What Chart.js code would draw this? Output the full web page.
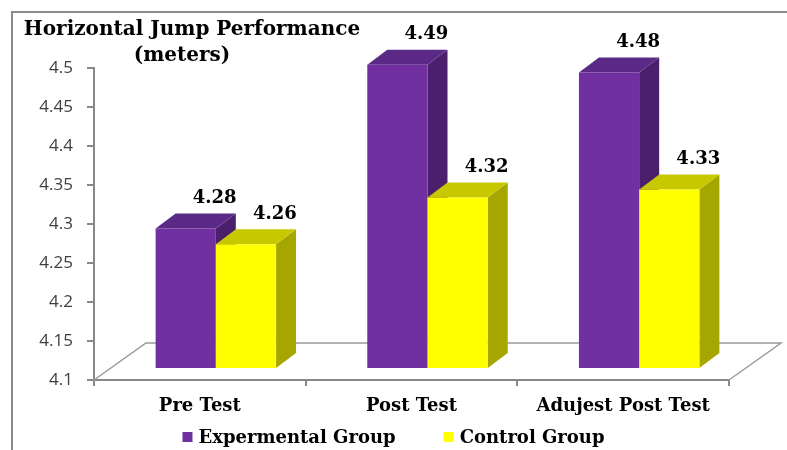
<!DOCTYPE html>
<html>
<head>
<meta charset="utf-8">
<script src="https://cdn.jsdelivr.net/npm/chart.js@4"></script>
<style>
  html, body { margin: 0; padding: 0; background: #ffffff; }
  #wrap { width: 787px; height: 450px; position: relative; }
</style>
</head>
<body>
<div id="wrap"><canvas id="c" width="787" height="450"></canvas></div>
<script>
// Horizontal jump results (meters) for the two groups
const categories = ['Pre Test', 'Post Test', 'Adujest Post Test'];
const experimental = [4.28, 4.49, 4.48];
const control = [4.26, 4.32, 4.33];
const seriesNames = ['Expermental Group', 'Control Group'];
const yTickLabels = ['4.1', '4.15', '4.2', '4.25', '4.3', '4.35', '4.4', '4.45', '4.5'];
const titleLines = ['Horizontal Jump Performance', '(meters)'];

const SERIF = '"DejaVu Serif", "Liberation Serif", serif';
const AXIS_GREY = '#888888';

// Pseudo-3D geometry: floor depth, bar depth and where bars sit inside the floor
const FLOOR = { dx: 52, dy: -37 };
const BAR = { dx: 20, dy: -15 };
const SHIFT = { dx: (FLOOR.dx - BAR.dx) / 2, dy: (FLOOR.dy - BAR.dy) / 2 };

const faceColors = [
  { front: '#7030A0', top: '#5a2a86', side: '#4a1f6c' },
  { front: '#FFFF00', top: '#C8C800', side: '#A6A600' }
];

function poly(ctx, pts, fill) {
  ctx.beginPath();
  ctx.moveTo(pts[0][0], pts[0][1]);
  for (let i = 1; i < pts.length; i++) ctx.lineTo(pts[i][0], pts[i][1]);
  ctx.closePath();
  ctx.fillStyle = fill;
  ctx.fill();
}

const frame3d = {
  id: 'frame3d',
  beforeDraw(chart) {
    const ctx = chart.ctx;
    ctx.save();
    ctx.strokeStyle = '#8c8c8c';
    ctx.lineWidth = 2;
    ctx.strokeRect(12, 12, chart.width + 20, chart.height + 20);
    ctx.restore();
  },
  beforeDatasetsDraw(chart) {
    const ctx = chart.ctx;
    const a = chart.chartArea;
    // floor outline
    ctx.save();
    ctx.strokeStyle = '#9a9a9a';
    ctx.lineWidth = 1.5;
    ctx.beginPath();
    ctx.moveTo(a.left, a.bottom);
    ctx.lineTo(a.left + FLOOR.dx, a.bottom + FLOOR.dy);
    ctx.lineTo(a.right + FLOOR.dx, a.bottom + FLOOR.dy);
    ctx.lineTo(a.right, a.bottom);
    ctx.stroke();
    ctx.restore();

    // bars: side and top faces, then the library's own front rectangle
    const n = chart.data.labels.length;
    for (let i = 0; i < n; i++) {
      chart.data.datasets.forEach((ds, d) => {
        const el = chart.getDatasetMeta(d).data[i];
        const p = el.getProps(['x', 'y', 'base', 'width'], true);
        const left = p.x - p.width / 2 + SHIFT.dx;
        const right = p.x + p.width / 2 + SHIFT.dx;
        const top = p.y + SHIFT.dy;
        const bottom = p.base + SHIFT.dy;
        const c = faceColors[d];
        ctx.save();
        poly(ctx, [[right, top], [right + BAR.dx, top + BAR.dy], [right + BAR.dx, bottom + BAR.dy], [right, bottom]], c.side);
        poly(ctx, [[left, top], [left + BAR.dx, top + BAR.dy], [right + BAR.dx, top + BAR.dy], [right, top]], c.top);
        ctx.translate(SHIFT.dx, SHIFT.dy);
        el.draw(ctx);
        ctx.restore();
      });
    }
    return false;
  },
  afterDraw(chart) {
    const ctx = chart.ctx;
    ctx.save();
    // value labels
    ctx.fillStyle = '#000000';
    ctx.font = 'bold 18px ' + SERIF;
    ctx.textAlign = 'center';
    ctx.textBaseline = 'middle';
    chart.data.datasets.forEach((ds, d) => {
      chart.getDatasetMeta(d).data.forEach((el, i) => {
        const p = el.getProps(['x', 'y'], true);
        ctx.fillText(ds.data[i].toFixed(2), p.x + SHIFT.dx + 29, p.y + SHIFT.dy - 30);
      });
    });
    // title
    ctx.font = 'bold 20px ' + SERIF;
    ctx.fillText(titleLines[0], 192, 30);
    ctx.fillText(titleLines[1], 182, 56);
    // legend
    ctx.font = 'bold 18px ' + SERIF;
    ctx.textAlign = 'left';
    const box = 10, gapText = 6, gapItem = 48;
    const widths = chart.data.datasets.map(ds => box + gapText + ctx.measureText(ds.label).width);
    const total = widths.reduce((s, w) => s + w, 0) + gapItem * (widths.length - 1);
    let x = chart.width / 2 - total / 2;
    const y = 437;
    chart.data.datasets.forEach((ds, d) => {
      ctx.fillStyle = ds.backgroundColor;
      ctx.fillRect(x, y - box / 2, box, box);
      ctx.fillStyle = '#000000';
      ctx.fillText(ds.label, x + box + gapText, y + 1);
      x += widths[d] + gapItem;
    });
    ctx.restore();
  }
};

new Chart(document.getElementById('c'), {
  type: 'bar',
  data: {
    labels: categories,
    datasets: [
      { label: seriesNames[0], data: experimental, backgroundColor: faceColors[0].front, borderWidth: 0, base: 4.1 },
      { label: seriesNames[1], data: control, backgroundColor: faceColors[1].front, borderWidth: 0, base: 4.1 }
    ]
  },
  options: {
    responsive: false,
    animation: false,
    devicePixelRatio: 1,
    layout: { padding: { top: 68, right: 58, bottom: 0, left: 0 } },
    datasets: { bar: { categoryPercentage: 0.569, barPercentage: 1.0 } },
    plugins: { legend: { display: false }, tooltip: { enabled: false }, title: { display: false } },
    scales: {
      x: {
        afterFit(s) { s.height = 70; },
        border: { display: true, color: AXIS_GREY, width: 2 },
        grid: { offset: true, drawOnChartArea: false, drawTicks: true, tickLength: 6, color: AXIS_GREY, lineWidth: 2 },
        ticks: { color: '#000000', padding: 10, font: { family: SERIF, size: 18, weight: 'bold' } }
      },
      y: {
        min: 4.1,
        max: 4.5,
        afterFit(s) { s.width = 94; },
        afterBuildTicks(s) { s.ticks = yTickLabels.map(t => ({ value: parseFloat(t) })); },
        border: { display: true, color: AXIS_GREY, width: 2 },
        grid: { drawOnChartArea: false, drawTicks: true, tickLength: 7, color: AXIS_GREY, lineWidth: 2 },
        ticks: {
          color: '#404040',
          padding: 14,
          font: { family: '"Open Sans", "Liberation Sans", sans-serif', size: 17 },
          callback: (v, i) => yTickLabels[i]
        }
      }
    }
  },
  plugins: [frame3d]
});
</script>
</body>
</html>
